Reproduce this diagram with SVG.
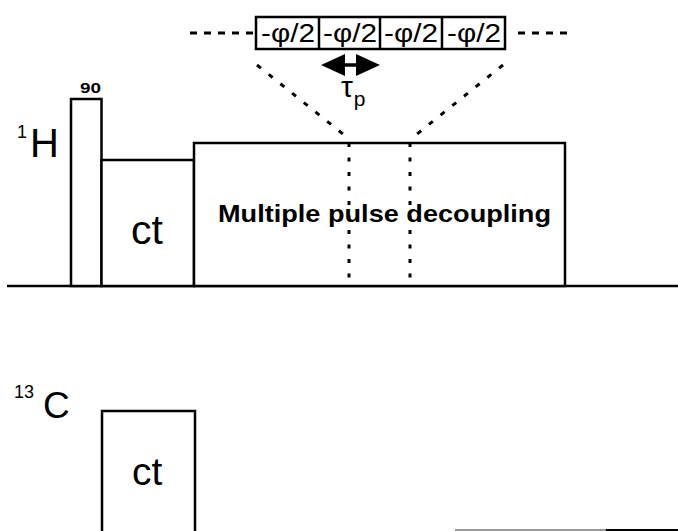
<svg xmlns="http://www.w3.org/2000/svg" width="678" height="531" viewBox="0 0 678 531">
<style>
.box{fill:#fff;stroke:#000;stroke-width:2.5}
.line{stroke:#000;stroke-width:2.5;fill:none}
.dot{stroke:#000;stroke-width:3;fill:none}
.lbl{font-family:"Liberation Sans",Arial,sans-serif;fill:#000}
.ph{font-family:"Liberation Sans",Arial,sans-serif;font-size:26px;text-anchor:middle;fill:#000}
</style>
<defs>
<marker id="ah" viewBox="0 0 24 22" refX="2" refY="11" markerWidth="24" markerHeight="22" markerUnits="userSpaceOnUse" orient="auto-start-reverse">
<path d="M0,0 L24,11 L0,22 Z" fill="#000"/>
</marker>
</defs>
<rect width="678" height="531" fill="#fff"/>

<g id="connectors">
<line class="line" x1="7" y1="286" x2="678" y2="286"/>
<line x1="455" y1="530" x2="606" y2="530" stroke="#999" stroke-width="2"/>
<line x1="606" y1="530" x2="678" y2="530" stroke="#000" stroke-width="2"/>
<line class="dot" x1="190" y1="33" x2="254" y2="33" stroke-dasharray="7 7"/>
<line class="dot" x1="518" y1="33" x2="567" y2="33" stroke-dasharray="7 7"/>
<line class="dot" x1="257" y1="65" x2="343" y2="134" stroke-dasharray="5 10"/>
<line class="dot" x1="503" y1="65" x2="417" y2="134" stroke-dasharray="5 10"/>
<line x1="343" y1="65" x2="358" y2="65" stroke="#000" stroke-width="3.5" marker-start="url(#ah)" marker-end="url(#ah)"/>
</g>

<g id="pulse90">
<rect class="box" x="71" y="99" width="30.5" height="187"/>
<text class="lbl" x="80" y="93" font-size="14" font-weight="bold" textLength="21" lengthAdjust="spacingAndGlyphs">90</text>
</g>

<g id="ctH">
<rect class="box" x="101.5" y="160" width="92.5" height="126"/>
<text class="lbl" x="131" y="244" font-size="41">ct</text>
</g>

<g id="decoupling">
<rect class="box" x="194" y="143" width="371" height="143"/>
<line class="dot" x1="349" y1="143" x2="349" y2="286" stroke-dasharray="4 10.5"/>
<line class="dot" x1="410" y1="143" x2="410" y2="286" stroke-dasharray="4 10.5"/>
<text class="lbl" x="218" y="222" font-size="24" font-weight="bold" textLength="333" lengthAdjust="spacingAndGlyphs">Multiple pulse decoupling</text>
</g>

<g id="phaseCycle">
<rect class="box" x="256" y="17" width="249" height="32"/>
<line class="line" x1="319" y1="17" x2="319" y2="49"/>
<line class="line" x1="380" y1="17" x2="380" y2="49"/>
<line class="line" x1="442" y1="17" x2="442" y2="49"/>
<text class="ph" x="288" y="42" textLength="54" lengthAdjust="spacingAndGlyphs">-φ/2</text>
<text class="ph" x="350" y="42" textLength="54" lengthAdjust="spacingAndGlyphs">-φ/2</text>
<text class="ph" x="411" y="42" textLength="54" lengthAdjust="spacingAndGlyphs">-φ/2</text>
<text class="ph" x="474" y="42" textLength="54" lengthAdjust="spacingAndGlyphs">-φ/2</text>
</g>

<g id="tau">
<text class="lbl" x="341" y="97" font-size="30">τ<tspan font-size="21" dx="1" dy="9">p</tspan></text>
</g>

<g id="labelH">
<text class="lbl" x="17" y="138" font-size="18">1<tspan font-size="40" dx="3" dy="19">H</tspan></text>
</g>

<g id="ctC">
<rect class="box" x="102" y="411" width="93" height="125"/>
<text class="lbl" x="132" y="485" font-size="39">ct</text>
</g>

<g id="labelC">
<text class="lbl" x="14" y="398" font-size="18">13<tspan font-size="37" dx="9" dy="20">C</tspan></text>
</g>
</svg>
